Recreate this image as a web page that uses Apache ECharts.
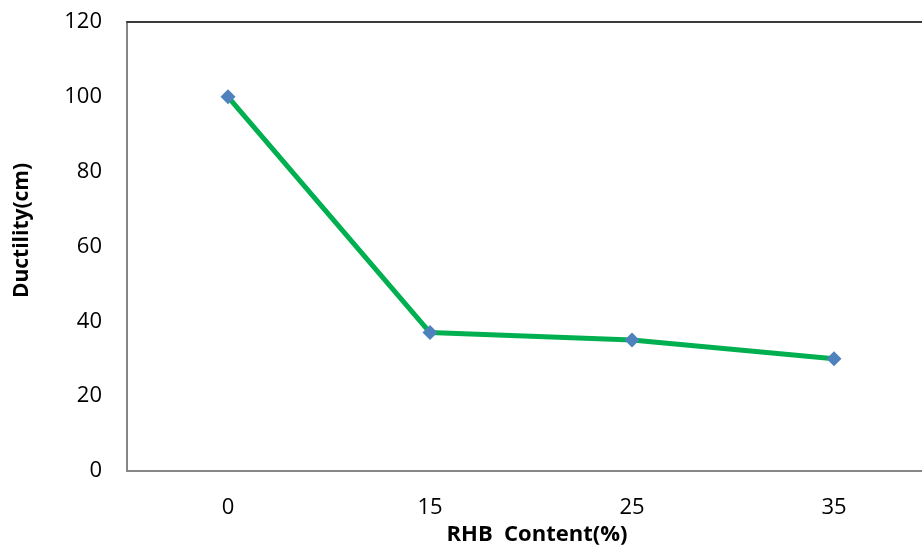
<!DOCTYPE html>
<html>
<head>
<meta charset="utf-8">
<script src="https://cdn.jsdelivr.net/npm/echarts@6/dist/echarts.min.js"></script>
<style>
  html, body { margin: 0; padding: 0; background: #fff; }
  #chart { width: 922px; height: 546px; }
</style>
</head>
<body>
<div id="chart"></div>
<script>
// RHB content levels and the measured ductility at each
const categories = ['0', '15', '25', '35'];
const ductility = [100, 37, 35, 30];
const yTicks = { min: 0, max: 120, interval: 20 };

const font = '"Open Sans", "Liberation Sans", sans-serif';

const chart = echarts.init(document.getElementById('chart'));
chart.setOption({
  backgroundColor: '#ffffff',
  animation: false,
  grid: { left: 127, top: 22, width: 808, height: 449, containLabel: false, outerBoundsMode: 'none' },
  xAxis: [
    {
      type: 'category',
      data: categories,
      boundaryGap: true,
      axisLine: { show: true, lineStyle: { color: '#868686', width: 2 } },
      axisTick: { show: false },
      axisLabel: { color: '#000', fontSize: 22, fontFamily: font, margin: 26 },
      name: 'RHB  Content(%)',
      nameLocation: 'middle',
      nameGap: 46,
      nameTextStyle: { color: '#000', fontSize: 22, fontWeight: 'bold', fontFamily: font, padding: [0, 0, 0, 12] }
    },
    {
      type: 'category',
      data: categories,
      position: 'top',
      axisLine: { show: true, lineStyle: { color: '#3a3a3a', width: 2 } },
      axisTick: { show: false },
      axisLabel: { show: false }
    }
  ],
  yAxis: {
    type: 'value',
    min: yTicks.min,
    max: yTicks.max,
    interval: yTicks.interval,
    axisLine: { show: true, lineStyle: { color: '#868686', width: 2 } },
    axisTick: { show: false },
    splitLine: { show: false },
    axisLabel: { color: '#000', fontSize: 22, fontFamily: font, margin: 25 },
    name: 'Ductility(cm)',
    nameLocation: 'middle',
    nameGap: 94,
    nameRotate: 90,
    nameTextStyle: { color: '#000', fontSize: 21, fontWeight: 'bold', fontFamily: font, padding: [0, 0, 0, 32] }
  },
  series: [{
    type: 'line',
    data: ductility,
    symbol: 'diamond',
    symbolSize: 15,
    lineStyle: { color: '#00B050', width: 5 },
    itemStyle: { color: '#4F81BD' }
  }]
});
</script>
</body>
</html>
